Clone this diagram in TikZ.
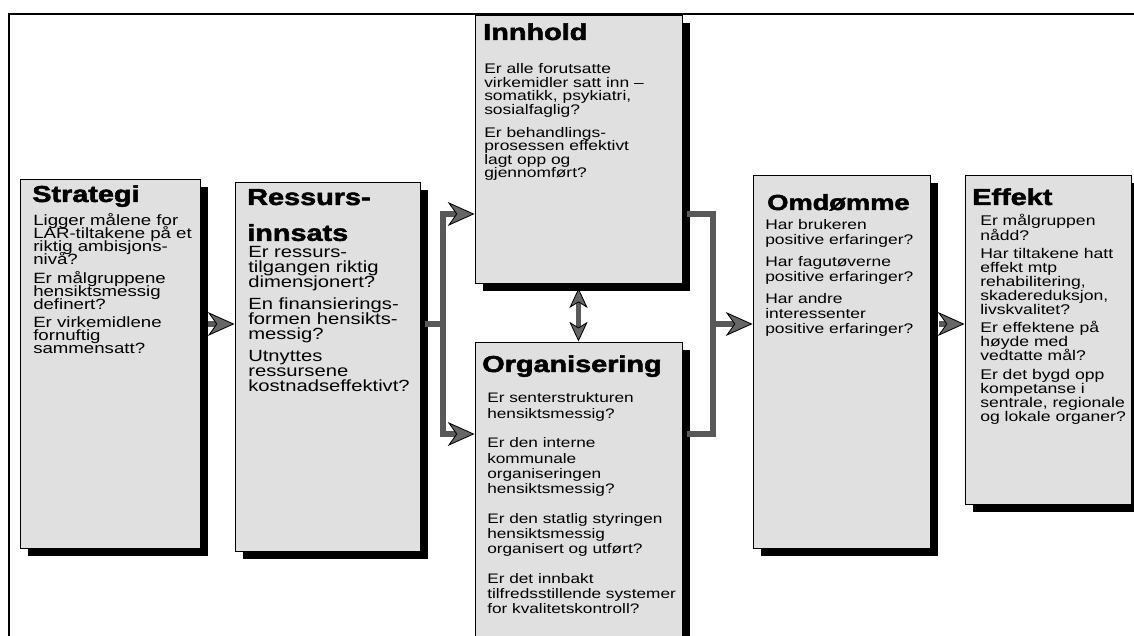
\documentclass[tikz,border=0pt]{standalone}
\usepackage{graphicx}
\usepackage{fontspec}
\setmainfont{Liberation Sans}
\newfontfamily\heavyface[FakeBold=2]{Liberation Sans Bold}
\usetikzlibrary{arrows.meta, fit, shadows}

% text in the boxes is set wide, as in the scan
\newcommand\wide[1]{\scalebox{1.25}[1]{#1}}
\newcommand\ttlfont{\heavyface\fontsize{16.4}{19}\selectfont}
\newcommand\txtfont[2]{\fontsize{#1}{#2}\selectfont\lineskiplimit=-\maxdimen\raggedright}

\tikzset{
  box/.style={draw=black, line width=0.7pt, fill=black!12, inner sep=0pt,
    drop shadow={shadow xshift=0.2cm, shadow yshift=-0.2cm, fill=black, opacity=1}},
  ttl/.style={anchor=base west, inner sep=0pt, font=\ttlfont},
  txt/.style={anchor=base west, inner sep=0pt},
  flow/.style={draw=black!65, line width=4.5pt,
    -{Stealth[length=19pt, width=17pt, inset=6pt, line width=0.6pt, fill=black!60, color=black]}},
  both/.style={draw=black!65, line width=3.5pt,
    {Stealth[length=14pt, width=13pt, inset=4pt, line width=0.6pt, fill=black!60, color=black]}-{Stealth[length=14pt, width=13pt, inset=4pt, line width=0.6pt, fill=black!60, color=black]}},
  link/.style={draw=black!65, line width=4.5pt, line cap=rect},
}

\begin{document}
\begin{tikzpicture}[x=0.025cm, y=-0.025cm]
  \useasboundingbox (0,0) rectangle (1134,636);

  % frame
  \draw[line width=1.8pt] (9,640) |- (1140,14);

  % boxes
  \node[box, fit={(20,179) (200,548)}] (strat) {};
  \node[box, fit={(235,182) (420,551)}] (ress) {};
  \node[box, fit={(475,15) (682,283)}] (innh) {};
  \node[box, fit={(475,342) (682,645)}] (org) {};
  \node[box, fit={(753,175) (930,548)}] (omd) {};
  \node[box, fit={(965,175) (1131,504)}] (eff) {};

  % Strategi
  \node[ttl] (strat-h) at (32,202) {\wide{Strategi}};
  \node[txt] (strat-b) at (33,226) {\wide{\parbox[t]{5cm}{\txtfont{10.6}{9.2}
    Ligger målene for\\ LAR-tiltakene på et\\ riktig ambisjons-\\ nivå?\\[4pt]
    Er målgruppene\\ hensiktsmessig\\ definert?\\[4pt]
    Er virkemidlene\\ fornuftig\\ sammensatt?}}};

  % Ressursinnsats
  \node[ttl] (ress-h) at (247,205) {\wide{\parbox[t]{5cm}{\fontsize{16.4}{25.5}\selectfont Ressurs-\\innsats}}};
  \node[txt] (ress-b) at (248,258) {\wide{\parbox[t]{5cm}{\txtfont{11.5}{10.6}
    Er ressurs-\\ tilgangen riktig\\ dimensjonert?\\[5pt]
    En finansierings-\\ formen hensikts-\\ messig?\\[5pt]
    Utnyttes\\ ressursene\\ kostnadseffektivt?}}};

  % Innhold
  \node[ttl] (innh-h) at (483,40) {\wide{Innhold}};
  \node[txt] (innh-b) at (484,74) {\wide{\parbox[t]{5.5cm}{\txtfont{9.9}{9.6}
    Er alle forutsatte\\ virkemidler satt inn –\\ somatikk, psykiatri,\\ sosialfaglig?\\[6.5pt]
    Er behandlings-\\ prosessen effektivt\\ lagt opp og\\ gjennomført?}}};

  % Organisering
  \node[ttl] (org-h) at (482,372) {\wide{Organisering}};
  \node[txt] (org-b) at (487,403) {\wide{\parbox[t]{5.5cm}{\txtfont{9.8}{10.9}
    Er senterstrukturen\\ hensiktsmessig?\\[10pt]
    Er den interne\\ kommunale\\ organiseringen\\ hensiktsmessig?\\[10pt]
    Er den statlig styringen\\ hensiktsmessig\\ organisert og utført?\\[10pt]
    Er det innbakt\\ tilfredsstillende systemer\\ for kvalitetskontroll?}}};

  % Omdømme
  \node[ttl, font=\heavyface\fontsize{15.5}{19}\selectfont] (omd-h) at (767,210) {\wide{Omdømme}};
  \node[txt] (omd-b) at (765,230) {\wide{\parbox[t]{5cm}{\txtfont{9.9}{10.6}
    Har brukeren\\ positive erfaringer?\\[5pt]
    Har fagutøverne\\ positive erfaringer?\\[5pt]
    Har andre\\ interessenter\\ positive erfaringer?}}};

  % Effekt
  \node[ttl] (eff-h) at (972,205) {\wide{Effekt}};
  \node[txt] (eff-b) at (980,226) {\wide{\parbox[t]{5cm}{\txtfont{10}{10}
    Er målgruppen\\ nådd?\\[3pt]
    Har tiltakene hatt\\ effekt mtp\\ rehabilitering,\\ skadereduksjon,\\ livskvalitet?\\[3pt]
    Er effektene på\\ høyde med\\ vedtatte mål?\\[3pt]
    Er det bygd opp\\ kompetanse i\\ sentrale, regionale\\ og lokale organer?}}};

  % levels of the connectors
  \coordinate (mid) at (0,324);
  \coordinate (hi) at (0,214);
  \coordinate (lo) at (0,434);
  \coordinate (split) at (443,324);
  \coordinate (join) at (713,324);
  \coordinate (strat-out) at ([xshift=0.2cm]strat.east);
  \coordinate (ress-out) at ([xshift=0.2cm]ress.east);
  \coordinate (innh-out) at ([xshift=0.2cm]innh.east);
  \coordinate (org-out) at ([xshift=0.2cm]org.east);
  \coordinate (omd-out) at ([xshift=0.2cm]omd.east);
  \coordinate (innh-foot) at ([yshift=-0.12cm]innh.south);

  % connectors
  \draw[flow] (strat-out |- mid) -- (ress.west |- mid);
  \draw[link] (ress-out |- mid) -- (split);
  \draw[flow] (split) |- (innh.west |- hi);
  \draw[flow] (split) |- (org.west |- lo);
  \draw[link] (innh-out |- hi) -| (join);
  \draw[link] (org-out |- lo) -| (join);
  \draw[flow] (join) -- (omd.west |- join);
  \draw[both] (innh-foot) -- (org.north);
  \draw[flow] (omd-out |- mid) -- (eff.west |- mid);
\end{tikzpicture}
\end{document}
